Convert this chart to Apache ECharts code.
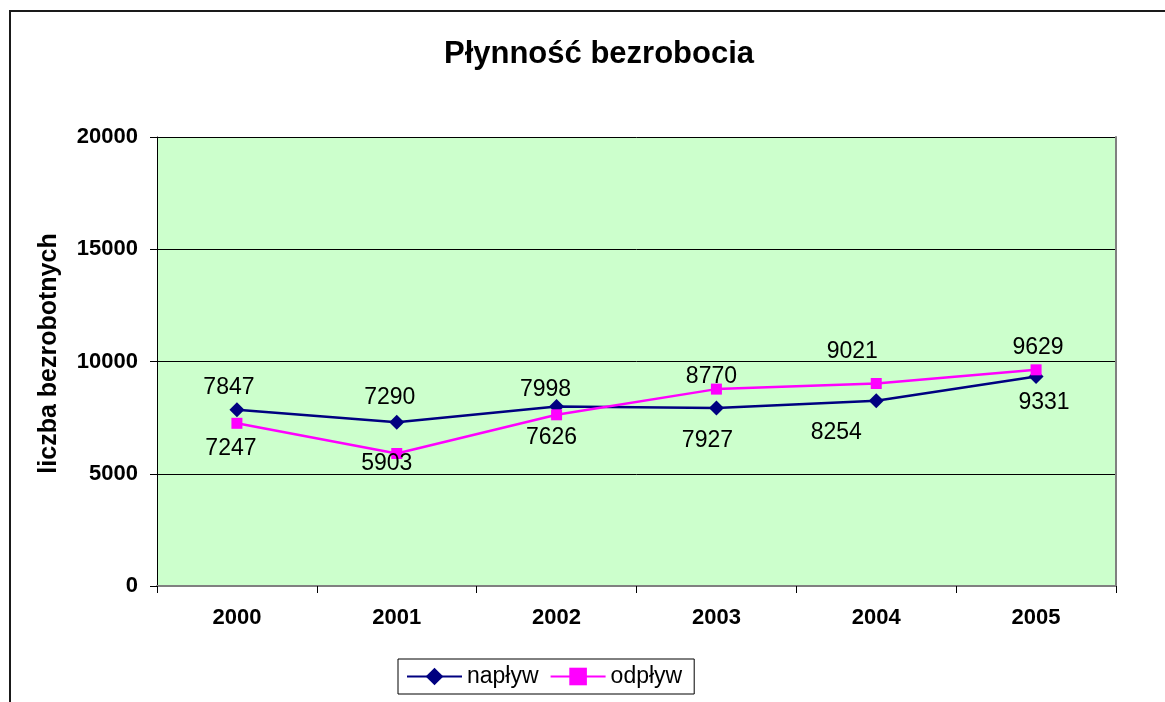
<!DOCTYPE html>
<html>
<head>
<meta charset="utf-8">
<script src="https://cdn.jsdelivr.net/npm/echarts@6/dist/echarts.min.js"></script>
<style>
html,body{margin:0;padding:0;background:#fff;}
#chart{width:1165px;height:702px;}
</style>
</head>
<body>
<div id="chart"></div>
<script>
const titleText = 'Płynność bezrobocia';
const yAxisName = 'liczba bezrobotnych';
const categories = ['2000', '2001', '2002', '2003', '2004', '2005'];
const naplywName = 'napływ';
const odplywName = 'odpływ';
const naplyw = [7847, 7290, 7998, 7927, 8254, 9331];
const odplyw = [7247, 5903, 7626, 8770, 9021, 9629];
const yTicks = [0, 5000, 10000, 15000, 20000];

// label placement (style only): offset of label centre from its point
const naplywLabelOffsets = [[-8,-22],[-7,-25],[-11,-17],[-9,33],[-40,32],[8,26]];
const odplywLabelOffsets = [[-6,25],[-10,10],[-5,23],[-5,-12],[-24,-32],[2,-22]];

const FONT = '"Liberation Sans", Arial, sans-serif';

function buildData(values, offsets) {
  return values.map((v, i) => ({
    value: v,
    label: { position: 'inside', offset: offsets[i] }
  }));
}

const labelStyle = {
  show: true,
  color: '#000',
  fontFamily: FONT,
  fontSize: 23
};

const chart = echarts.init(document.getElementById('chart'), null, { renderer: 'canvas' });
chart.setOption({
  animation: false,
  backgroundColor: '#fff',
  title: {
    text: titleText,
    left: 594,
    textAlign: 'center',
    top: 34,
    textStyle: { fontFamily: FONT, fontSize: 31, fontWeight: 'bold', color: '#000' }
  },
  graphic: [{
    type: 'rect',
    shape: { x: 10, y: 11, width: 1200, height: 800 },
    style: { fill: null, stroke: '#1a1a1a', lineWidth: 2 },
    silent: true,
    z: -1
  }],
  legend: {
    left: 398,
    top: 659,
    padding: [6, 12, 6, 8],
    itemWidth: 55,
    itemHeight: 22,
    itemGap: 11,
    borderColor: '#000',
    borderWidth: 1,
    backgroundColor: '#fff',
    textStyle: { fontFamily: FONT, fontSize: 23, color: '#000' },
    data: [naplywName, odplywName]
  },
  grid: {
    left: 157, top: 137, right: 49, bottom: 116,
    show: true,
    backgroundColor: '#CCFFCC',
    borderWidth: 0,
    containLabel: false
  },
  xAxis: [{
    type: 'category',
    data: categories,
    boundaryGap: true,
    axisLine: { show: true, lineStyle: { color: '#000', width: 1 } },
    axisTick: { show: true, length: 7, inside: false, alignWithLabel: false, lineStyle: { color: '#000' } },
    axisLabel: { fontFamily: FONT, fontSize: 22, fontWeight: 'bold', color: '#000', margin: 21 },
    splitLine: { show: false }
  }, {
    type: 'category',
    data: categories,
    position: 'top',
    axisLine: { show: true, lineStyle: { color: '#808080', width: 2 } },
    axisTick: { show: false },
    axisLabel: { show: false },
    splitLine: { show: false }
  }],
  yAxis: [{
    type: 'value',
    min: yTicks[0],
    max: yTicks[yTicks.length - 1],
    interval: yTicks[1] - yTicks[0],
    name: yAxisName,
    nameLocation: 'middle',
    nameGap: 95,
    nameRotate: 90,
    nameTextStyle: { fontFamily: FONT, fontSize: 25, fontWeight: 'bold', color: '#000', padding: [0, 0, 0, 16] },
    axisLine: { show: true, lineStyle: { color: '#000', width: 1 } },
    axisTick: { show: true, length: 7, inside: false, lineStyle: { color: '#000' } },
    axisLabel: { fontFamily: FONT, fontSize: 22, fontWeight: 'bold', color: '#000', margin: 19,
                 formatter: v => String(v) },
    splitLine: { show: true, lineStyle: { color: '#000', width: 1 } }
  }, {
    type: 'value',
    position: 'right',
    min: yTicks[0],
    max: yTicks[yTicks.length - 1],
    interval: yTicks[1] - yTicks[0],
    axisLine: { show: true, lineStyle: { color: '#808080', width: 2 } },
    axisTick: { show: false },
    axisLabel: { show: false },
    splitLine: { show: false }
  }],
  series: [{
    name: naplywName,
    type: 'line',
    xAxisIndex: 0,
    yAxisIndex: 0,
    data: buildData(naplyw, naplywLabelOffsets),
    symbol: 'diamond',
    symbolSize: 15,
    lineStyle: { color: '#000080', width: 2.5 },
    itemStyle: { color: '#000080' },
    label: labelStyle,
    z: 3
  }, {
    name: odplywName,
    type: 'line',
    xAxisIndex: 0,
    yAxisIndex: 0,
    data: buildData(odplyw, odplywLabelOffsets),
    symbol: 'rect',
    symbolSize: 11,
    lineStyle: { color: '#FF00FF', width: 2.5 },
    itemStyle: { color: '#FF00FF' },
    label: labelStyle,
    z: 4
  }]
});
</script>
</body>
</html>
